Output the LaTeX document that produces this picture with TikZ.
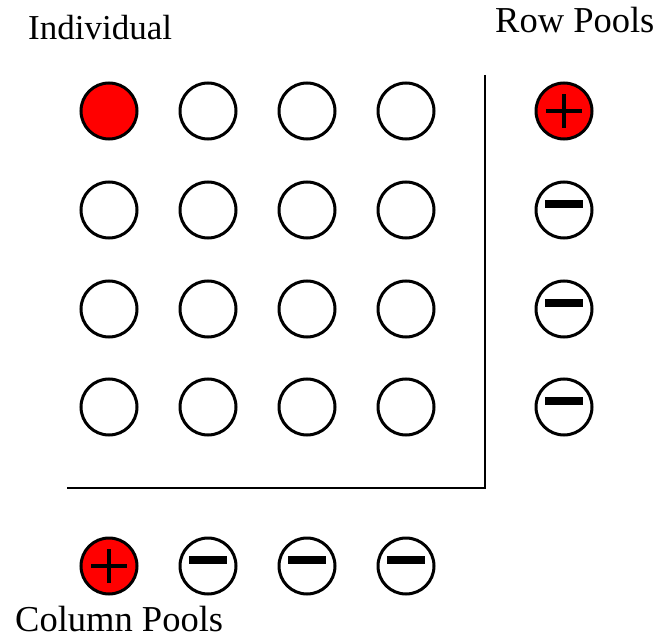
\documentclass[tikz,border=0pt]{standalone}
\usepackage{fontspec}
\setmainfont{Liberation Serif}
\begin{document}
\begin{tikzpicture}[x=1pt,y=-1pt,
  cell/.style={circle,draw=black,line width=3pt,minimum size=56pt,inner sep=0pt,fill=white},
  redcell/.style={cell,fill=red},
  pluspool/.style={cell,fill=red,
    path picture={
      \draw[line width=4pt] ([xshift=-18pt]path picture bounding box.center) -- ([xshift=18pt]path picture bounding box.center);
      \draw[line width=4pt] ([yshift=-17pt]path picture bounding box.center) -- ([yshift=17pt]path picture bounding box.center);
    }},
  minuspool/.style={cell,
    path picture={
      \draw[line width=8.5pt] ([xshift=-19pt,yshift=6pt]path picture bounding box.center) -- ([xshift=19pt,yshift=6pt]path picture bounding box.center);
    }},
  label/.style={anchor=base west,inner sep=0pt,text depth=0pt,font=\fontsize{35}{40}\selectfont},
  biglabel/.style={label,font=\fontsize{36.5}{42}\selectfont},
  frame/.style={line width=2pt,black}
]
\useasboundingbox (0,0) rectangle (664,639);

% labels
\node[label] (ind) at (28,40) {Individual};
\node[biglabel] (rowp) at (495,33) {Row Pools};
\node[biglabel] (colp) at (15,631) {Column Pools};

% grid of individuals
\foreach \i/\x in {1/109,2/208,3/307,4/406}{
  \foreach \j/\y in {1/111,2/210,3/309,4/407}{
    \ifnum\i=1 \ifnum\j=1
      \node[redcell] (c\i\j) at (\x,\y) {};
    \else
      \node[cell] (c\i\j) at (\x,\y) {};
    \fi\else
      \node[cell] (c\i\j) at (\x,\y) {};
    \fi
  }
}

% row pools
\node[pluspool] (r1) at (564,111) {};
\node[minuspool] (r2) at (564,210) {};
\node[minuspool] (r3) at (564,309) {};
\node[minuspool] (r4) at (564,407) {};

% column pools
\node[pluspool] (k1) at (109,566) {};
\node[minuspool] (k2) at (208,566) {};
\node[minuspool] (k3) at (307,566) {};
\node[minuspool] (k4) at (406,566) {};

% frame lines
\coordinate (top) at (485,75);
\coordinate (corner) at (485,488);
\coordinate (left) at (67,488);
\draw[frame] (top) -- (corner) -- (left);
\end{tikzpicture}
\end{document}
